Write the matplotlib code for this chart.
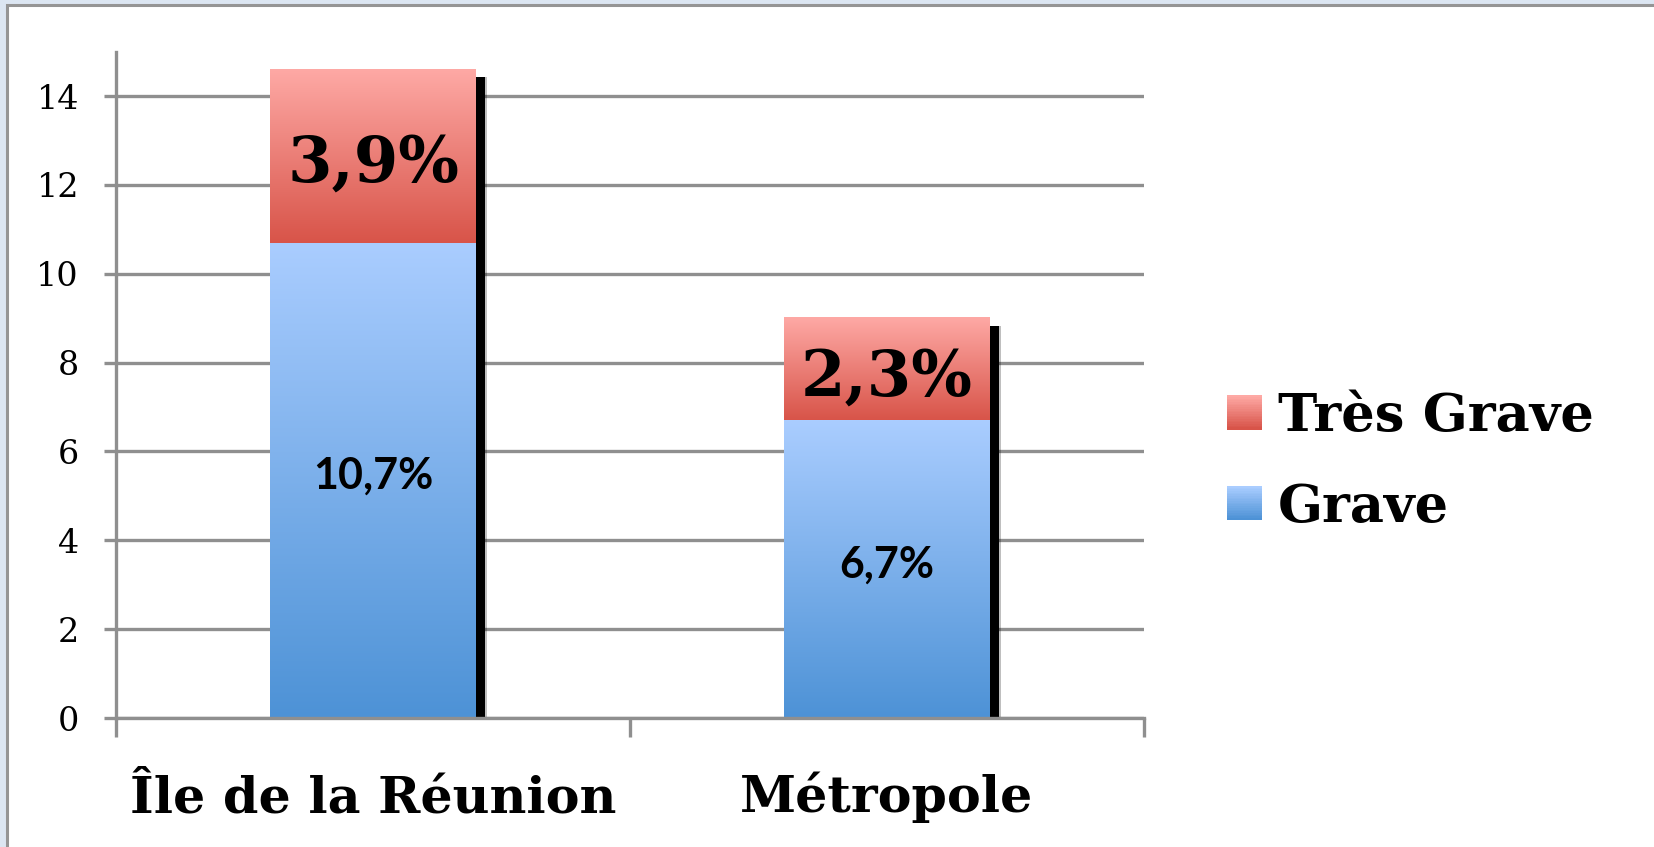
import numpy as np
import matplotlib
matplotlib.use("Agg")
import matplotlib.pyplot as plt
from matplotlib.patches import Rectangle
from matplotlib.legend_handler import HandlerBase
from matplotlib.colors import to_rgb

# === DONNÉES ===
categories = ['Île de la Réunion', 'Métropole']
grave = [10.7, 6.7]
tres_grave = [3.9, 2.3]
series_names = ['Grave', 'Très Grave']
yticks = [0, 2, 4, 6, 8, 10, 12, 14]

# couleurs (haut, bas) des dégradés
bleu = ('#aacdff', '#4d92d6')
rouge = ('#fea9a5', '#d85449')
gris = '#8f8f8f'


def degrade(haut, bas, n=256):
    c0 = np.array(to_rgb(haut))
    c1 = np.array(to_rgb(bas))
    t = np.linspace(0, 1, n)[:, None]
    return (c0 * (1 - t) + c1 * t)[:, None, :]


def fmt(v):
    return f"{v:.1f}".replace('.', ',') + '%'


class HandlerDegrade(HandlerBase):
    def __init__(self, haut, bas, n=20):
        super().__init__()
        self.cols = degrade(haut, bas, n)[:, 0, :]
        self.n = n

    def create_artists(self, legend, orig_handle, xdescent, ydescent,
                       width, height, fontsize, trans):
        arts = []
        for i in range(self.n):
            y = -ydescent + height * (self.n - 1 - i) / self.n
            arts.append(Rectangle((-xdescent, y), width, height / self.n + 0.3,
                                  facecolor=self.cols[i], lw=0, transform=trans))
        return arts


W, H = 1654, 847
fig = plt.figure(figsize=(W / 100, H / 100), dpi=100)
fig.patch.set_facecolor('#dce6f2')
cadre = Rectangle((7 / W, -0.05), 1.1, 1 - 5 / H + 0.05, transform=fig.transFigure,
                  facecolor='white', edgecolor='#959595', lw=2.2, zorder=-1)
fig.add_artist(cadre)

ax = fig.add_axes([116 / W, (H - 718) / H, 1028 / W, 666.4 / H])
ax.set_facecolor('none')
ax.set_axisbelow(True)

x = np.arange(len(categories))
larg = 0.4
total = np.array(grave) + np.array(tres_grave)

# ombre portée à droite des barres
dx = 9 / 514
dy = 8 / 44.43
ax.bar(x + dx + 2 / 514, total - dy, width=larg, color='black', alpha=0.25, zorder=1.4)
ax.bar(x + dx, total - dy, width=larg, color='black', zorder=1.5)

b1 = ax.bar(x, grave, width=larg, color=bleu[1], zorder=2, label=series_names[0])
b2 = ax.bar(x, tres_grave, width=larg, bottom=grave, color=rouge[1], zorder=2,
            label=series_names[1])

for cont, cols in [(b1, bleu), (b2, rouge)]:
    for r in cont:
        x0, y0 = r.get_xy()
        ax.imshow(degrade(*cols), extent=(x0, x0 + r.get_width(), y0, y0 + r.get_height()),
                  aspect='auto', origin='upper', zorder=2.1, interpolation='bilinear')

# étiquettes
for i in range(len(categories)):
    ax.annotate(fmt(grave[i]), (x[i], grave[i] / 2), xytext=(0, 3),
                textcoords='offset points', ha='center', va='center',
                family='Lato', fontweight='bold', fontsize=31, zorder=5)
    ax.annotate(fmt(tres_grave[i]), (x[i], grave[i] + tres_grave[i] / 2), xytext=(0, -6),
                textcoords='offset points', ha='center', va='center',
                family='DejaVu Serif', fontweight='bold', fontsize=46, zorder=5)

ax.set_xlim(-0.5, len(categories) - 0.5)
ax.set_ylim(0, 15)
ax.set_yticks(yticks)
ax.set_yticklabels([str(v) for v in yticks], family='DejaVu Serif', fontsize=24)
ax.set_xticks(x)
ax.set_xticklabels(categories, family='DejaVu Serif', fontweight='bold', fontsize=36.5)
ax.set_xticks(np.arange(-0.5, len(categories)), minor=True)
for lab in ax.get_xticklabels():
    lab.set_verticalalignment('baseline')

ax.grid(axis='y', color=gris, lw=2.4)
for s in ['top', 'right']:
    ax.spines[s].set_visible(False)
for s in ['left', 'bottom']:
    ax.spines[s].set_color(gris)
    ax.spines[s].set_linewidth(2.4)
ax.tick_params(axis='y', length=8.6, width=2.4, color=gris, pad=18)
ax.tick_params(axis='x', which='major', length=0, pad=68)
ax.tick_params(axis='x', which='minor', length=13.5, width=2.4, color=gris)

leg = ax.legend([b2, b1], [series_names[1], series_names[0]],
                handler_map={b2: HandlerDegrade(*rouge), b1: HandlerDegrade(*bleu)},
                loc='center left', bbox_to_anchor=(1227 / W, 1 - 462 / H),
                bbox_transform=fig.transFigure, frameon=False, borderpad=0,
                borderaxespad=0, handlelength=0.66, handleheight=0.61,
                handletextpad=0.3, labelspacing=0.75,
                prop={'family': 'DejaVu Serif', 'weight': 'bold', 'size': 38})

fig.savefig('out.png', dpi=100)
